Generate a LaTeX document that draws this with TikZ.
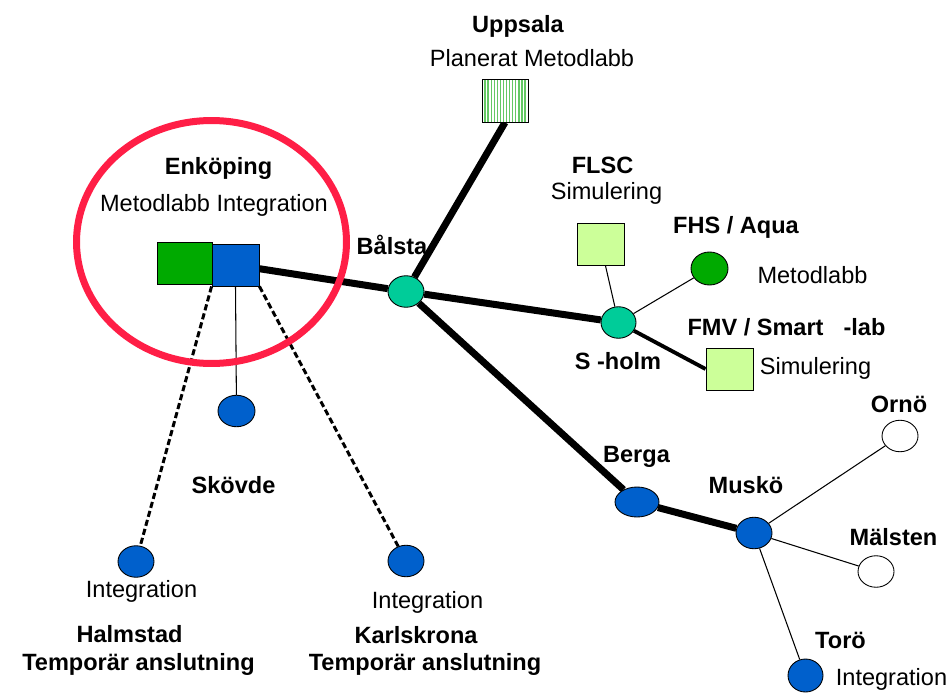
\documentclass[tikz,border=0pt]{standalone}
\usepackage{fontspec}
\setmainfont{Liberation Sans}
\usetikzlibrary{shapes.geometric,calc,backgrounds}

\definecolor{siteblue}{RGB}{0,96,204}
\definecolor{hubteal}{RGB}{0,204,153}
\definecolor{labgreen}{RGB}{0,170,0}
\definecolor{simgreen}{RGB}{204,255,153}
\definecolor{stripegreen}{RGB}{100,200,100}
\definecolor{ringred}{RGB}{255,30,70}

\tikzset{
  site/.style={ellipse,draw=black,line width=0.5pt,inner sep=0pt,minimum width=0.72cm,minimum height=0.63cm},
  hub/.style={site,fill=hubteal},
  lab/.style={site,fill=siteblue},
  open/.style={site,fill=white},
  box/.style={rectangle,draw=black,line width=0.5pt,inner sep=0pt,minimum width=0.94cm,minimum height=0.84cm},
  sitename/.style={anchor=base,inner sep=0pt,font=\bfseries},
  sitenote/.style={anchor=base,inner sep=0pt},
  trunk/.style={line width=0.14cm},
  branch/.style={line width=2.2pt},
  spur/.style={line width=0.6pt},
  temp/.style={line width=1.7pt,dash pattern=on 3.5pt off 1.8pt},
  stripe/.style={stripegreen,line width=0.8pt},
}

\begin{document}
\fontsize{13.4pt}{16pt}\selectfont
\begin{tikzpicture}[x=0.02cm,y=-0.02cm]
\useasboundingbox (0,0) rectangle (949,693);

% sites
\node[ellipse,draw=ringred,line width=0.14cm,minimum width=5.4cm,minimum height=4.86cm] (enkring) at (211.5,242) {};
\node[box,fill=labgreen,minimum width=1.1cm] (enkgreen) at (184.5,263) {};
\node[box,fill=siteblue] (enkblue) at (235.5,265) {};
\node[box,fill=white,minimum height=0.86cm,minimum width=0.92cm,
  path picture={\foreach \k in {1,...,14}
    \draw[stripe] ($(path picture bounding box.north west)!\k/15!(path picture bounding box.north east)$)
      -- ($(path picture bounding box.south west)!\k/15!(path picture bounding box.south east)$);}] (uppsala) at (505,100.5) {};
\node[box,fill=simgreen] (flsc) at (600.5,244) {};
\node[box,fill=simgreen] (fmv) at (729.5,369) {};
\node[site,fill=labgreen,minimum width=0.74cm,minimum height=0.66cm] (aqua) at (709.5,268.5) {};
\node[hub] (balsta) at (406,291.5) {};
\node[hub,minimum width=0.7cm] (sholm) at (618.5,322.5) {};
\node[lab,minimum width=0.74cm] (skovde) at (236.5,411) {};
\node[lab] (halmstad) at (136,561.5) {};
\node[lab] (karlskrona) at (406,561) {};
\node[lab,minimum width=0.88cm,minimum height=0.6cm] (berga) at (637,502) {};
\node[lab] (musko) at (754,533) {};
\node[open] (orno) at (900,436) {};
\node[open] (malsten) at (876,571.5) {};
\node[lab,minimum width=0.7cm,minimum height=0.66cm] (toro) at (805.5,675.5) {};

% labels
\node[sitename] (uppsalaname) at (518,32) {Uppsala};
\node[sitenote] (uppsalanote) at (532,66) {Planerat Metodlabb};
\node[sitename] (enkname) at (218.5,174) {Enköping};
\node[sitenote] (enknote) at (214,211) {Metodlabb Integration};
\node[sitename] (balstaname) at (392,254) {Bålsta};
\node[sitename] (flscname) at (602.5,173) {FLSC};
\node[sitenote] (flscnote) at (606.5,199) {Simulering};
\node[sitename] (aquaname) at (736,233) {FHS / Aqua};
\node[sitenote] (aquanote) at (812.5,283) {Metodlabb};
\node[sitename] (fmvname) at (786.5,335) {FMV / Smart\hspace{0.85em}-lab};
\node[sitenote] (fmvnote) at (815.5,374) {Simulering};
\node[sitename] (sholmname) at (618,369) {S -holm};
\node[sitename] (skovdename) at (233.5,493) {Skövde};
\node[sitenote] (halmstadnote) at (141.5,597) {Integration};
\node[sitename] (halmstadname) at (129.5,642) {Halmstad};
\node[sitename] (halmstadtemp) at (138.5,670) {Temporär anslutning};
\node[sitenote] (karlskronanote) at (427.5,608) {Integration};
\node[sitename] (karlskronaname) at (416,643) {Karlskrona};
\node[sitename] (karlskronatemp) at (425,670) {Temporär anslutning};
\node[sitename] (berganame) at (636.5,462) {Berga};
\node[sitename] (muskoname) at (746,493) {Muskö};
\node[sitename] (ornoname) at (899,412) {Ornö};
\node[sitename] (malstenname) at (893.5,545) {Mälsten};
\node[sitename] (toroname) at (840.5,648) {Torö};
\node[sitenote] (toronote) at (891.5,685) {Integration};

% links
\begin{scope}[on background layer]
\draw[trunk] (uppsala.south) -- (balsta);
\draw[trunk] (enkblue) -- (balsta);
\draw[trunk] (balsta) -- (sholm);
\draw[trunk] (balsta) -- (berga);
\draw[trunk] (berga) -- (musko);
\draw[branch] (sholm) -- (fmv.west);
\draw[spur] (flsc) -- (sholm);
\draw[spur] (sholm) -- (aqua);
\draw[spur] (enkblue.south) -- (skovde);
\draw[temp] (enkblue.south west) -- (halmstad);
\draw[temp] (enkblue.south east) -- (karlskrona);
\draw[spur] (musko) -- (orno);
\draw[spur] (musko) -- (malsten);
\draw[spur] (musko) -- (toro);
\end{scope}

\end{tikzpicture}
\end{document}
